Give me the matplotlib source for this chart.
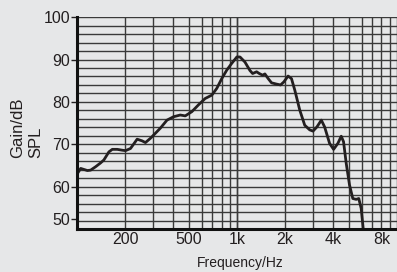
import numpy as np
import matplotlib.pyplot as plt
from matplotlib.ticker import FixedLocator, NullFormatter

# response curve (Hz, dB SPL)
freq = [100.6, 105.4, 116.1, 121.7, 130.7, 140.4, 147.2, 158.2, 166.1, 178.4,
        191.6, 201, 215.9, 237.6, 255.3, 267.7, 287.4, 309, 331.8, 365.1,
        401.5, 441.8, 474.8, 522.4, 574.3, 632.3, 696, 747.7, 803, 862.9,
        927, 998, 1044, 1121, 1205, 1252, 1326, 1377, 1445, 1494,
        1566, 1644, 1766, 1871, 1961, 2085, 2190, 2296, 2466, 2650,
        2847, 2985, 3160, 3365, 3528, 3791, 4015, 4269, 4482, 4633,
        4815, 5049, 5293, 5558, 5768, 5970, 6190]
gain = [63.1, 64.3, 63.8, 63.9, 64.7, 65.6, 66.3, 68.2, 68.8, 68.8,
        68.6, 68.5, 69.0, 71.2, 70.8, 70.4, 71.4, 72.6, 73.8, 75.7,
        76.5, 76.9, 76.7, 77.7, 79.3, 80.8, 81.6, 83.2, 85.5, 87.5,
        89.1, 90.6, 90.6, 89.4, 87.4, 86.7, 87.1, 86.7, 86.3, 86.6,
        85.5, 84.5, 84.2, 84.0, 84.7, 86.1, 85.5, 82.8, 78.1, 74.5,
        73.4, 73.1, 74.1, 75.7, 74.1, 70.2, 68.8, 70.2, 71.9, 70.6,
        65.5, 60.4, 57.2, 57.0, 57.2, 54.9, 49.0]

xtick_vals = [200, 500, 1000, 2000, 4000, 8000]
xtick_text = ['200', '500', '1k', '2k', '4k', '8k']
ytick_vals = [52.4, 60, 70, 80, 90, 100]
ytick_text = ['50', '60', '70', '80', '90', '100']

bg = '#e6e7e8'
plt.rcParams['font.family'] = 'Liberation Sans'

fig = plt.figure(figsize=(3.97, 2.72), dpi=100, facecolor=bg)
ax = fig.add_axes([0.194, 0.158, 0.806, 0.779], facecolor=bg)
ax.set_xscale('log')
ax.set_xlim(100, 10000)
ax.set_ylim(50, 100)

# grid every 100 Hz / 1 kHz and every 2 dB
grid_x = [m * d for d in (100, 1000) for m in range(1, 11)]
ax.xaxis.set_minor_locator(FixedLocator(grid_x))
ax.xaxis.set_minor_formatter(NullFormatter())
ax.yaxis.set_minor_locator(FixedLocator(np.arange(50, 101, 2)))
ax.xaxis.remove_overlapping_locs = False
ax.yaxis.remove_overlapping_locs = False
ax.grid(which='minor', color='#3a3a3a', lw=1.0)
ax.grid(which='major', visible=False)
ax.tick_params(which='minor', length=0)

ax.set_xticks(xtick_vals, xtick_text)
ax.set_yticks(ytick_vals, ytick_text)
ax.tick_params(axis='x', which='major', length=0, pad=2, labelsize=11.5, colors='#231f20')
ax.tick_params(axis='y', which='major', length=4, width=1, pad=1, labelsize=11.5, colors='#231f20')

ax.plot(freq, gain, color='#231f20', lw=2.0, zorder=3)

for s in ['top', 'right']:
    ax.spines[s].set_visible(False)
for s in ['left', 'bottom']:
    ax.spines[s].set_linewidth(2.2)
    ax.spines[s].set_color('#111111')
    ax.spines[s].set_zorder(4)

fig.text(0.067, 0.529, 'Gain/dB\nSPL', rotation=90, ha='center', va='center',
         multialignment='left', linespacing=1.25, fontsize=12, color='#231f20')
fig.text(240 / 397, 9 / 272, 'Frequency/Hz', ha='center', va='center',
         fontsize=10, color='#231f20')

fig.savefig('out.png', dpi=100, facecolor=bg)
